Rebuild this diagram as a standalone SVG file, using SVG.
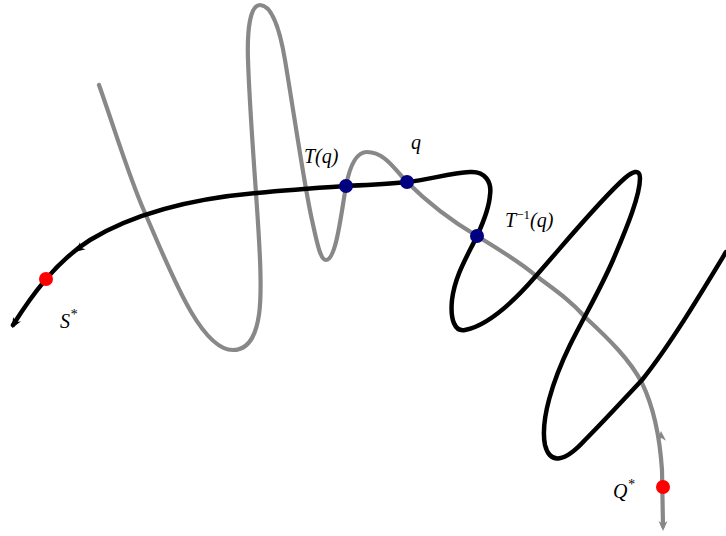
<svg xmlns="http://www.w3.org/2000/svg" xmlns:xlink="http://www.w3.org/1999/xlink" width="726" height="536" viewBox="0 0 726 536">
<style>
.blk{fill:none;stroke:#000;stroke-width:4.5;stroke-linecap:round;stroke-linejoin:round}
.gry{fill:none;stroke:#888;stroke-width:4.2;stroke-linecap:round;stroke-linejoin:round}
.lbl{font-family:"Liberation Serif","Times New Roman",serif;font-style:italic;font-size:20px;fill:#000}
.blue{fill:#000080}
.red{fill:#ff0000}
</style>
<defs>
<path id="ah" d="M0,0 L-10,-4.5 L-7,0 L-10,4.5 Z"/>
</defs>
<rect width="726" height="536" fill="#fff"/>
<g id="connectors">
<path id="gray-curve" class="gry" d="M99,85 C115,130 130,180 145,213 C170,270 200,350 233,350 C265,350 262,290 259,240 C257,200 250,120 248,60 C247,30 250,5 260,5 C272,5 280,30 285,60 C295,120 305,190 312,220 C318,248 321,260 326,260 C336,260 341,215 346,186 C350,165 357,152 367,152 C385,152 395,170 407,182 C425,200 450,220 477,236 C500,250 520,262 535,275 C555,290 570,300 585,317 C610,340 630,360 642,383 C655,410 660,440 662,470 L663,526"/>
<path id="black-curve" class="blk" d="M13,325 C30,298 55,262 90,240 C140,210 200,198 257,193 C287,190 316,188 346,186 C366,185 387,184 407,182 C428,180 450,173 470,172 C485,171 492,182 490,195 C489,210 482,225 477,236 C468,255 455,275 452,300 C450,320 455,332 465,330 C490,325 515,300 535,277 C565,243 600,200 625,178 C632,172 640,168 640,178 C640,195 628,225 613,260 C600,290 585,315 570,345 C553,380 540,420 545,445 C550,465 565,462 585,440 C605,420 625,398 642,380 C670,345 700,295 726,252"/>
<use xlink:href="#ah" fill="#000" transform="translate(75,252) rotate(141.5)"/>
<use xlink:href="#ah" fill="#000" transform="translate(12,328) rotate(120)"/>
<use xlink:href="#ah" fill="#888" transform="translate(661,431) rotate(-93)"/>
<use xlink:href="#ah" fill="#888" transform="translate(663,531) rotate(90)"/>
</g>
<g id="Tq"><circle class="blue" cx="346" cy="186" r="7"/><text class="lbl" x="304" y="163">T(q)</text></g>
<g id="q"><circle class="blue" cx="407" cy="182" r="7"/><text class="lbl" x="411" y="149">q</text></g>
<g id="Tinvq"><circle class="blue" cx="477" cy="236" r="7"/><text class="lbl" x="505" y="227">T<tspan font-size="13" font-style="normal" dy="-8">−1</tspan><tspan dy="8">(q)</tspan></text></g>
<g id="S"><circle class="red" cx="46" cy="279" r="7"/><text class="lbl" x="60" y="328">S<tspan font-size="14" dy="-9">*</tspan></text></g>
<g id="Q"><circle class="red" cx="663" cy="487" r="7"/><text class="lbl" x="613" y="498">Q<tspan font-size="14" dy="-9">*</tspan></text></g>
</svg>
